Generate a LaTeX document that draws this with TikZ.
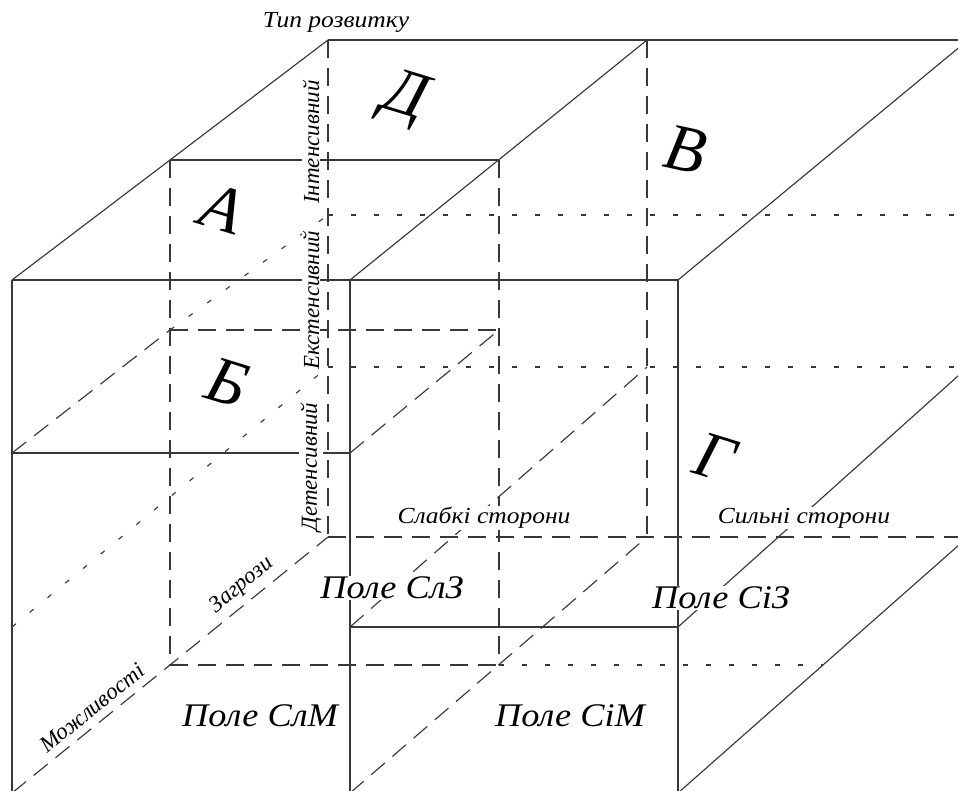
\documentclass[tikz,border=0pt]{standalone}
\usepackage{fontspec}
\setmainfont{Liberation Serif}
\begin{document}
\begin{tikzpicture}[x=1pt,y=-1pt,
  edge/.style={draw=black!78, line width=1.15pt},
  hidden/.style={edge, dash pattern=on 18pt off 10pt},
  faint/.style={edge, dash pattern=on 5pt off 18pt},
  axislbl/.style={font=\itshape\fontsize{23}{23}\selectfont, inner sep=1pt},
  wideaxis/.style={axislbl, xscale=1.11},
  masklbl/.style={axislbl, fill=white},
  widemask/.style={wideaxis, fill=white},
  fieldlbl/.style={font=\itshape\fontsize{33}{33}\selectfont, inner sep=1pt, fill=white, xscale=1.1},
  cell/.style={font=\itshape\fontsize{66}{66}\selectfont, inner sep=0pt}]
\useasboundingbox (0,0) rectangle (958,791);
\clip (0,0) rectangle (958,791);
% grid points p<column><depth><level>
\foreach \c/\xa/\xb/\xc in {0/12/170/328, 1/350/499/647, 2/678/823/968} {
  \foreach \z/\ya/\yb/\yc in {0/280/160/40, 1/453/330/215, 2/627/496/367, 3/793/665/537} {
    \coordinate (p\c0\z) at (\xa,\ya);
    \coordinate (p\c1\z) at (\xb,\yb);
    \coordinate (p\c2\z) at (\xc,\yc);
  }
}
% solid edges
\draw[edge] (p000) -- (p200);
\draw[edge] (p020) -- (p220);
\draw[edge] (p010) -- (p110);
\draw[edge] (p000) -- (p020);
\draw[edge] (p100) -- (p120);
\draw[edge] (p200) -- (p220);
\draw[edge] (p000) -- (p003);
\draw[edge] (p100) -- (p103);
\draw[edge] (p200) -- (p203);
\draw[edge] (p001) -- (p101);
\draw[edge] (p102) -- (p202);
\draw[edge] (p202) -- (p222);
\draw[edge] (p203) -- (p223);
% dashed edges
\draw[hidden] (p010) -- (p013);
\draw[hidden] (p110) -- (p113);
\draw[hidden] (p020) -- (p023);
\draw[hidden] (p120) -- (p123);
\draw[hidden] (p011) -- (p111);
\draw[hidden] (p001) -- (p011);
\draw[hidden] (p101) -- (p111);
\draw[hidden] (p102) -- (p122);
\draw[hidden] (p013) -- (p113);
\draw[hidden] (p023) -- (p223);
\draw[hidden] (p003) -- (p023);
\draw[hidden] (p103) -- (p123);
% dotted edges
\draw[faint] (p011) -- (p021);
\draw[faint] (p021) -- (p221);
\draw[faint] (p022) -- (p222);
\draw[faint] (p002) -- (p022);
\draw[faint] (p113) -- (p213);
% axis labels
\node[wideaxis] (tip) at (336,22) {Тип розвитку};
\node[masklbl, rotate=90] (inten) at (311,142) {Інтенсивний};
\node[masklbl, rotate=90] (exten) at (311,300) {Екстенсивний};
\node[masklbl, rotate=90] (deten) at (311,467) {Детенсивний};
\node[widemask] (weak) at (484,518) {Слабкі сторони};
\node[widemask] (strong) at (804,518) {Сильні сторони};
\node[axislbl, rotate=40] (threat) at (242,585) {Загрози};
\node[axislbl, rotate=39] (opp) at (92,708) {Можливості};
% field labels
\node[fieldlbl] (slz) at (392,588) {Поле СлЗ};
\node[fieldlbl] (slm) at (260,716) {Поле СлМ};
\node[fieldlbl] (siz) at (721,598) {Поле СіЗ};
\node[fieldlbl] (sim) at (570,716) {Поле СіМ};
% cell letters
\node[cell, rotate=-17] (cD) at (405,99) {Д};
\node[cell, rotate=-17] (cA) at (222,209) {А};
\node[cell, rotate=-17] (cB) at (227,383) {Б};
\node[cell, rotate=-12] (cV) at (686,150) {В};
\node[cell, rotate=-17] (cG) at (715,457) {Г};
\end{tikzpicture}
\end{document}
